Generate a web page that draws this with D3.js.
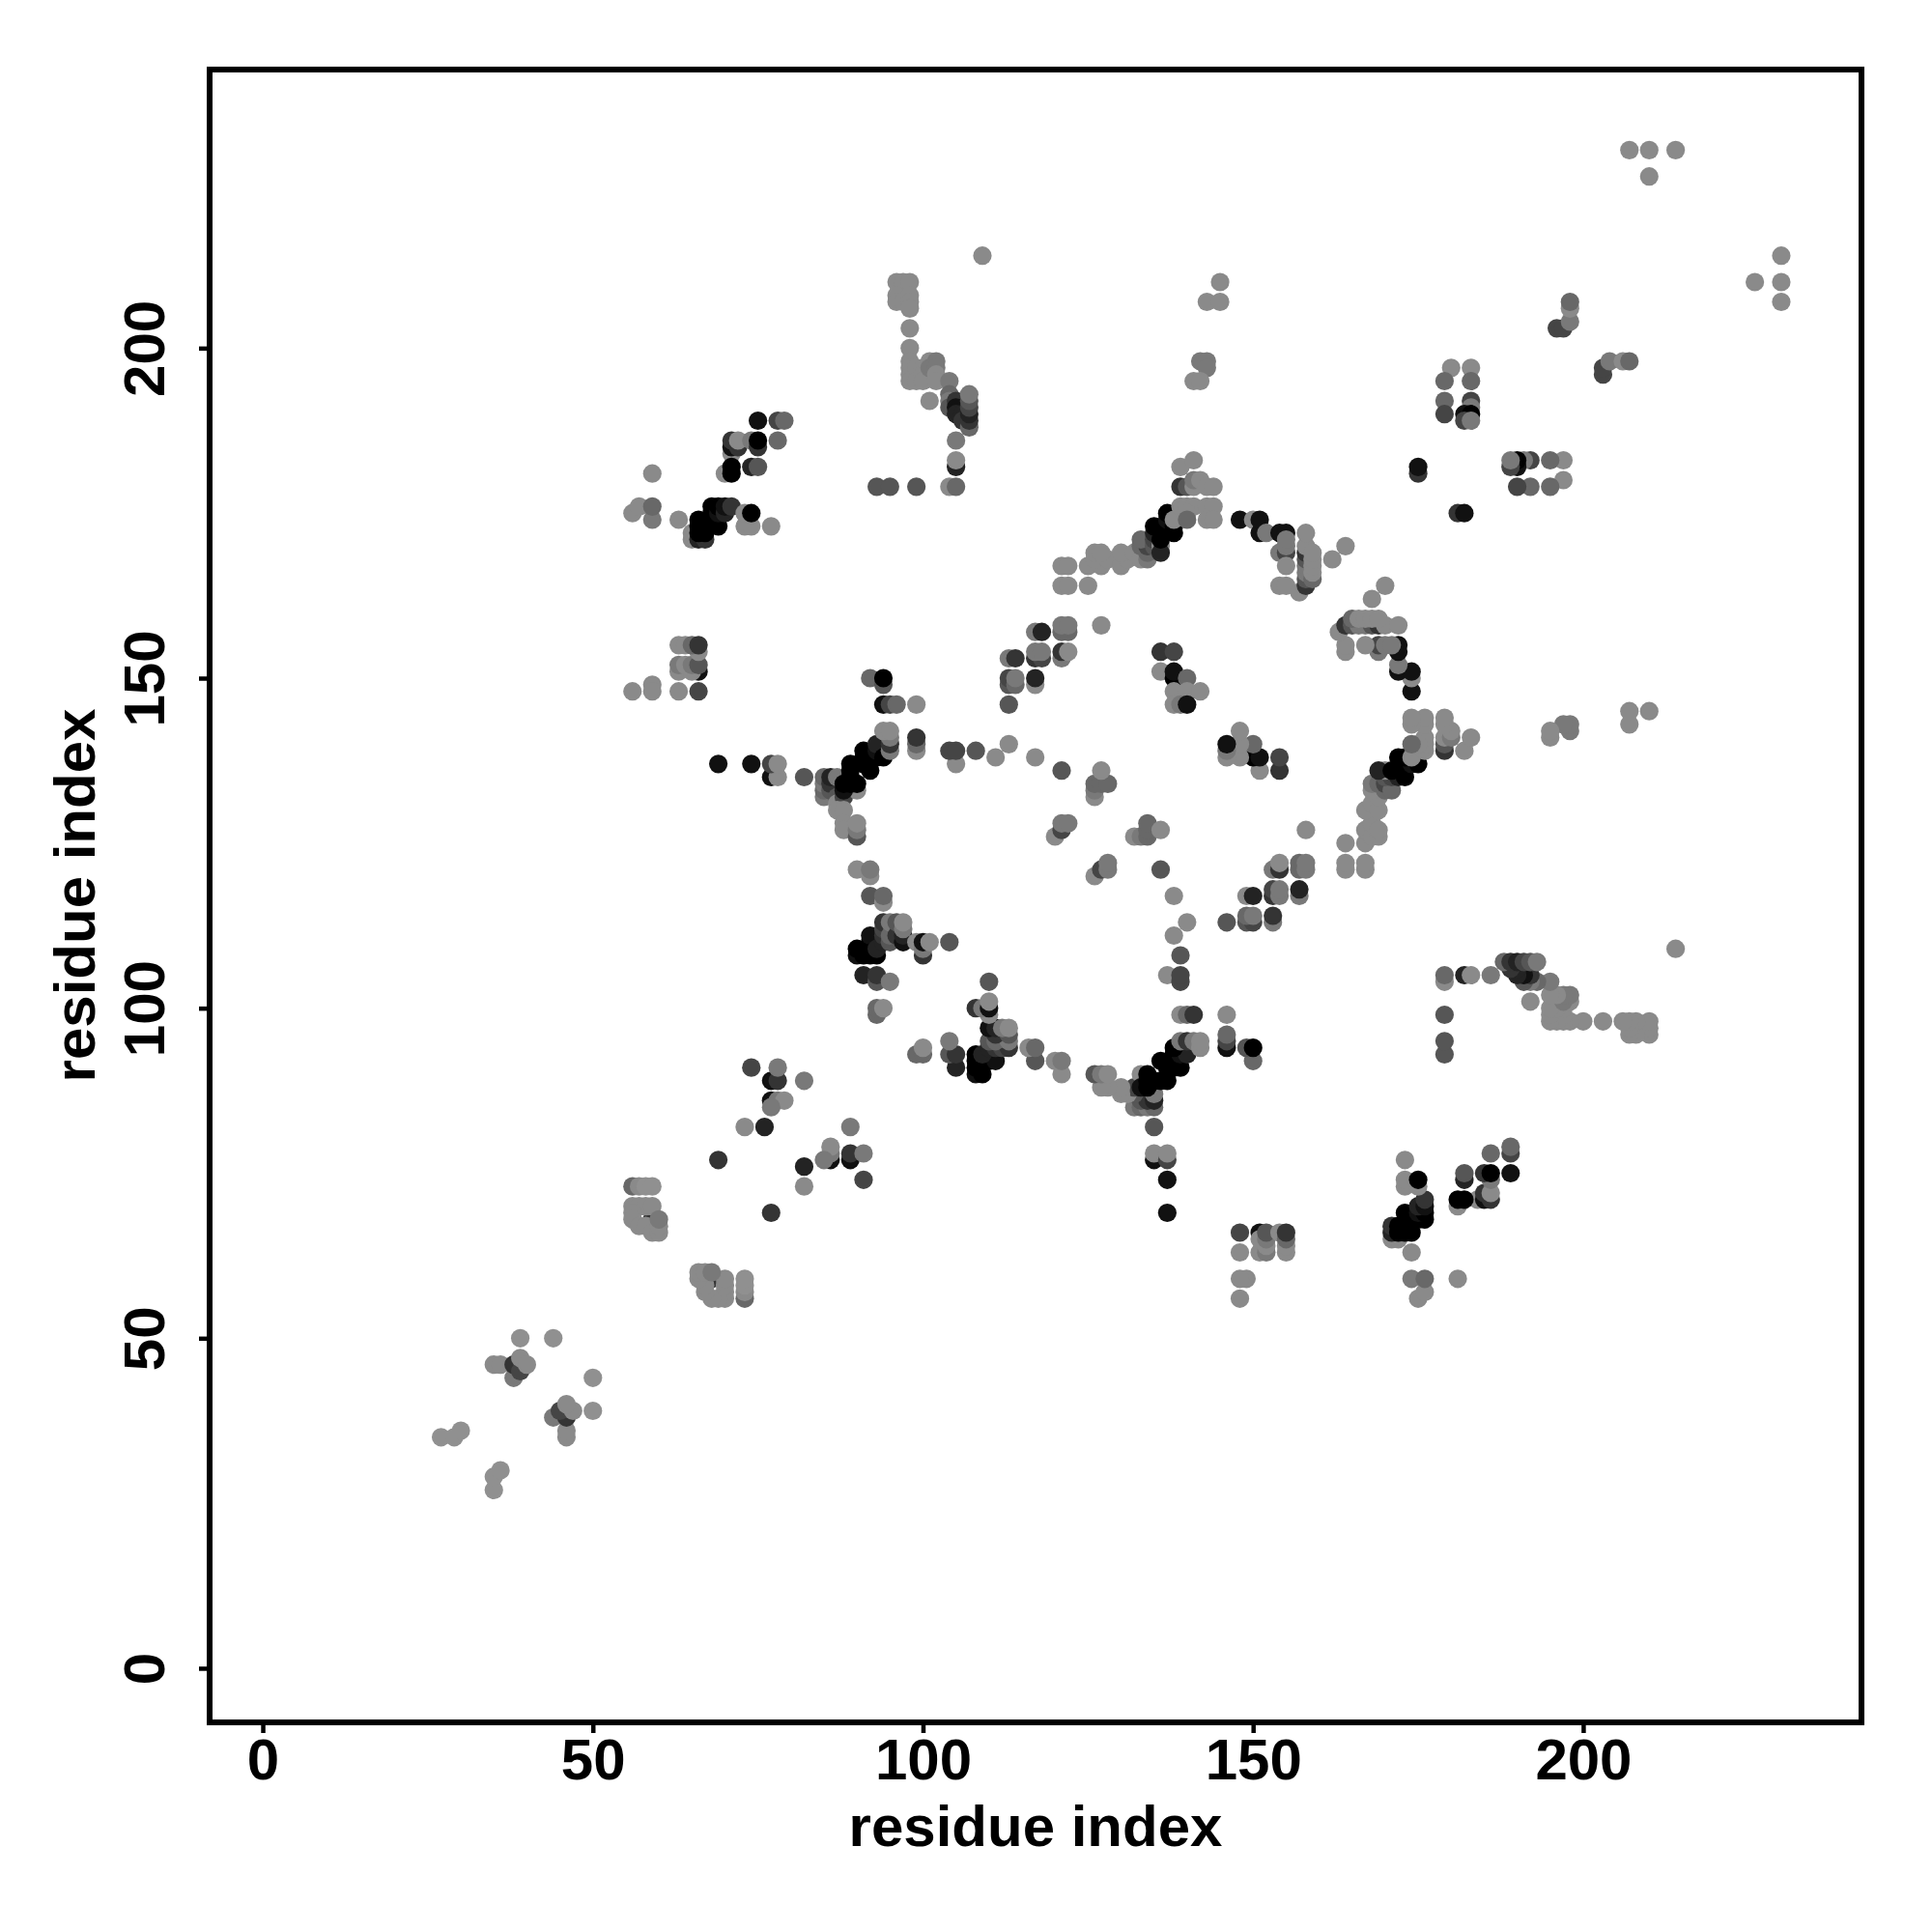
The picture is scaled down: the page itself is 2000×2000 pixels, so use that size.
<!DOCTYPE html>
<html><head><meta charset="utf-8">
<script src="https://cdn.jsdelivr.net/npm/d3@7"></script>
<style>html,body{margin:0;background:#fff}</style></head><body>
<script>
// Symmetric residue contact map. Each row is [residue i, residue j, shade 0 (black) .. 9 (lightest)],
// read for i<j; the other half of the picture is the same contacts as [j, i].
const nearDiagonal=[[27,35,9],[29,35,9],[30,36,9],[35,46,8],[36,46,8],[38,44,7],[38,46,3],[39,45,4],[39,47,8],[40,46,8],[39,50,9],[44,50,9]];
const block56=[[56,73,6],[57,73,8],[58,73,9],[59,73,9],[59,68,3],[56,70,8],[57,70,8],[58,70,8],[59,70,8],[56,69,8],[56,68,8],[57,67,8],[58,67,8],[59,66,8],[60,66,8],[60,67,8],[60,68,7],
[69,77,3],[73,82,8],[76,82,2],[77,86,1],[78,86,7],[79,86,8],[77,85,7],[82,89,7],[77,89,1],[78,89,3],[78,91,7],[74,91,4]];
const block148=[[56,148,8],[59,149,8],[59,148,8],[63,148,8],[66,148,4],[66,151,1],[63,151,8],[65,151,8],[63,152,7],[64,152,8],[65,152,7],[66,152,5],[66,154,8],[63,155,8],[64,155,8],[65,155,6],[66,155,3]];
const block171=[[59,181,8],[56,175,8],[57,176,8],[59,174,7],[59,176,6],[63,174,8],[65,171,8],[65,172,8],[66,171,2],[67,171,3],[66,172,0],[67,172,0],[66,173,0],[66,174,0],[69,173,0],[68,174,0],[68,175,0],[68,176,0],[69,175,1],[69,176,0],[70,175,2],[70,176,1],[71,176,3],[73,173,8],[74,173,8],[77,173,8],[73,175,8],[74,175,0],
[71,184,8],[71,185,1],[71,186,3],[72,185,3],[72,186,8],[74,186,7],[75,185,3],[75,186,0],[78,186,6],[70,181,8],[71,181,0],[71,182,0],[74,182,2],[75,182,5],[75,189,1],[78,189,4],[79,189,6]];
const leftArm=[[69,137,1],[74,137,1],[77,135,1],[78,135,8],[77,137,4],[78,137,8],[82,135,5],[85,132,7],[85,133,6],[85,134,7],[85,135,6],[86,133,5],[86,134,3],[86,135,2],[87,135,7],[87,132,5],[87,131,8],[88,132,4],[87,130,8],[88,130,8],[88,128,8],[88,127,8],[90,126,5],[90,127,7],[90,128,8],[90,133,8],[88,133,1],[88,134,0],[89,134,0],[89,135,0],[89,136,0],[89,137,0],[90,134,0],[91,137,0],[91,138,0],[91,139,0],[92,136,0],[93,138,0],[93,139,1],[93,140,2],[94,138,0],[95,139,7],[95,140,3],[95,141,7],[94,142,8],[95,142,8],
[92,150,6],[94,149,5],[94,150,0],[94,146,1],[95,146,4],[96,146,6],[99,146,8],[99,139,8],[99,140,6],[99,141,3],[105,137,8],[104,139,4],[105,139,4],[108,139,5],[111,138,8],[113,140,8],[117,138,8],[121,136,5]];
const lowerLeftRing=[[90,121,8],[92,120,8],[92,121,7],[92,117,5],[94,116,8],[94,117,6],[90,108,1],[91,108,0],[90,109,0],[92,108,0],[92,110,0],[92,111,1],[93,108,0],[93,109,2],[94,110,2],[94,111,3],[94,112,4],[94,113,3],[95,110,5],[95,111,6],[95,113,7],[96,111,3],[96,113,5],[97,110,1],[97,111,2],[97,112,7],[97,113,8],[99,110,8],[100,108,3],[100,109,7],[100,110,1],[101,110,8],[104,110,5],[91,105,2],[93,104,5],[93,105,3],[95,104,7],[93,99,6],[93,100,6],[94,100,8]];
const column96=[[109,214,8],[96,210,8],[97,210,8],[98,210,8],[96,208,8],[98,208,8],[96,207,8],[97,207,8],[98,207,8],[98,206,8],[98,203,8],[98,200,8],[98,198,8],[98,197,8],[98,196,8],[98,195,8],[99,197,8],[99,195,8],[100,197,8],[100,196,8],[100,195,8],[101,198,8],[101,197,7],[102,198,7],[102,197,7],[102,196,8],[102,195,8],[101,192,8],[104,195,7],[104,193,6],[104,192,7],[104,191,5],
[105,192,3],[105,191,1],[105,190,2],[106,190,2],[106,189,3],[107,188,6],[107,189,3],[107,190,2],[107,191,4],[107,192,5],[107,193,7],[105,186,7],[105,182,2],[105,183,8],[93,179,5],[95,179,5],[99,179,5],[104,179,8],[105,179,6]];
const topLeftRing=[[113,146,5],[113,149,5],[113,150,4],[114,149,6],[114,150,7],[113,153,7],[114,153,3],[117,149,8],[117,150,2],[117,153,3],[118,153,4],[117,154,7],[118,154,7],[121,153,7],[121,154,3],[122,154,8],[117,157,7],[118,157,2],[121,157,6],[122,157,6],[121,158,7],[122,158,7],[127,158,8],
[121,164,8],[122,164,8],[125,164,8],[121,167,8],[122,167,8],[125,167,8],[127,167,8],[126,168,8],[128,168,8],[126,169,8],[127,169,8],[130,167,8],[131,168,8],[130,169,8],[132,169,8],[133,168,8],[134,168,7],[134,169,6],[133,170,6],[134,170,4],[133,171,6],[135,170,5],[135,171,4],[136,170,8],[136,169,2],[135,172,2],[135,173,0],[136,171,0],[137,173,0],[137,174,1],[137,175,0],[138,172,0],[138,173,0],[138,174,8]];
const interior=[[120,126,8],[121,127,4],[121,128,7],[122,128,7],[126,132,8],[126,133,7],[126,134,6],[127,134,6],[128,134,6],[127,136,8],
[136,151,8],[136,154,3],[138,154,4],[138,150,0],[138,151,1],[140,150,6],[138,148,8],[140,148,8],[142,148,8],[138,146,8],[139,146,7],[140,146,1]];
const topRightRing=[[139,182,8],[141,183,8],[139,179,3],[140,179,5],[141,179,8],[141,180,7],[142,180,8],[143,179,8],[144,179,8],[139,176,8],[140,176,8],[141,176,8],[143,176,8],[144,176,8],[140,175,8],[140,174,6],[143,174,8],[144,174,8],
[148,174,1],[150,174,8],[151,172,1],[151,174,1],[152,172,7],[154,172,1],[155,172,1],[154,169,7],[155,169,4],[155,170,7],[155,171,7],[155,167,8],[154,164,8],[155,164,8],[157,163,8],
[158,164,3],[158,165,5],[158,166,7],[158,167,7],[158,168,5],[158,169,3],[158,170,8],[159,165,6],[159,166,8],[159,167,8],[159,168,8],[159,169,8],[158,172,8],[162,168,8],[164,170,8]];
const upperRight=[[145,210,8],[143,207,8],[145,207,8],[142,198,7],[143,198,7],[143,197,7],[141,195,8],[142,195,8],
[175,181,3],[175,182,1],[180,197,8],[183,197,8],[179,195,6],[183,195,6],[179,192,6],[179,190,4],[183,192,4],[183,191,7],[182,190,1],[183,190,0],[182,189,4],[183,189,7],
[196,203,4],[197,203,4],[198,204,7],[198,206,8],[198,207,6],[207,230,8],[210,230,8],[214,230,8],[210,226,8]];

const upperContacts=[nearDiagonal,block56,block148,block171,leftArm,lowerLeftRing,column96,topLeftRing,interior,topRightRing,upperRight].flat();
const contacts=upperContacts.concat(upperContacts.map(d=>[d[1],d[0],d[2]]));
const xTicks=[0,50,100,150,200], yTicks=[0,50,100,150,200];
const axisTitle="residue index";

const W=2000,H=2000,plotLeft=217,plotRight=1927,plotTop=72,plotBottom=1783;
const svg=d3.select("body").append("svg").attr("width",W).attr("height",H).style("display","block");
const x=d3.scaleLinear().domain([-8.05,242.15]).range([plotLeft,plotRight]);
const y=d3.scaleLinear().domain([-8.2,242.2]).range([plotBottom,plotTop]);
const shade=d3.scaleLinear().domain([0,8,9]).range(["#000000","#8a8a8a","#909090"]);
const font="'Liberation Sans',Arial,sans-serif";

svg.append("g").selectAll("circle").data(contacts).join("circle")
 .attr("cx",d=>x(d[0])).attr("cy",d=>y(d[1])).attr("r",9.6).attr("fill",d=>shade(d[2]));

const gx=svg.append("g").attr("transform",`translate(0,${plotBottom})`)
 .call(d3.axisBottom(x).tickValues(xTicks).tickFormat(d3.format("d")).tickSize(11).tickPadding(5));
const gy=svg.append("g").attr("transform",`translate(${plotLeft},0)`)
 .call(d3.axisLeft(y).tickValues(yTicks).tickFormat(d3.format("d")).tickSize(11));
[gx,gy].forEach(g=>{g.select(".domain").remove();
 g.selectAll("line").attr("stroke","#000").attr("stroke-width",4.5);
 g.selectAll("text").attr("fill","#000").style("font-family",font).style("font-weight","bold").style("font-size","60px");});
gy.selectAll(".tick text").attr("x",0).attr("y",0).attr("dy",null).attr("text-anchor","middle")
 .attr("transform",`translate(${170-plotLeft},0) rotate(-90)`);
svg.append("rect").attr("x",plotLeft).attr("y",plotTop).attr("width",plotRight-plotLeft).attr("height",plotBottom-plotTop)
 .attr("fill","none").attr("stroke","#000").attr("stroke-width",6);
svg.append("text").text(axisTitle).attr("x",1072).attr("y",1911).attr("text-anchor","middle")
 .style("font-family",font).style("font-weight","bold").style("font-size","60px");
svg.append("text").text(axisTitle).attr("transform","translate(98,927) rotate(-90)").attr("text-anchor","middle")
 .style("font-family",font).style("font-weight","bold").style("font-size","60px");
</script></body></html>
